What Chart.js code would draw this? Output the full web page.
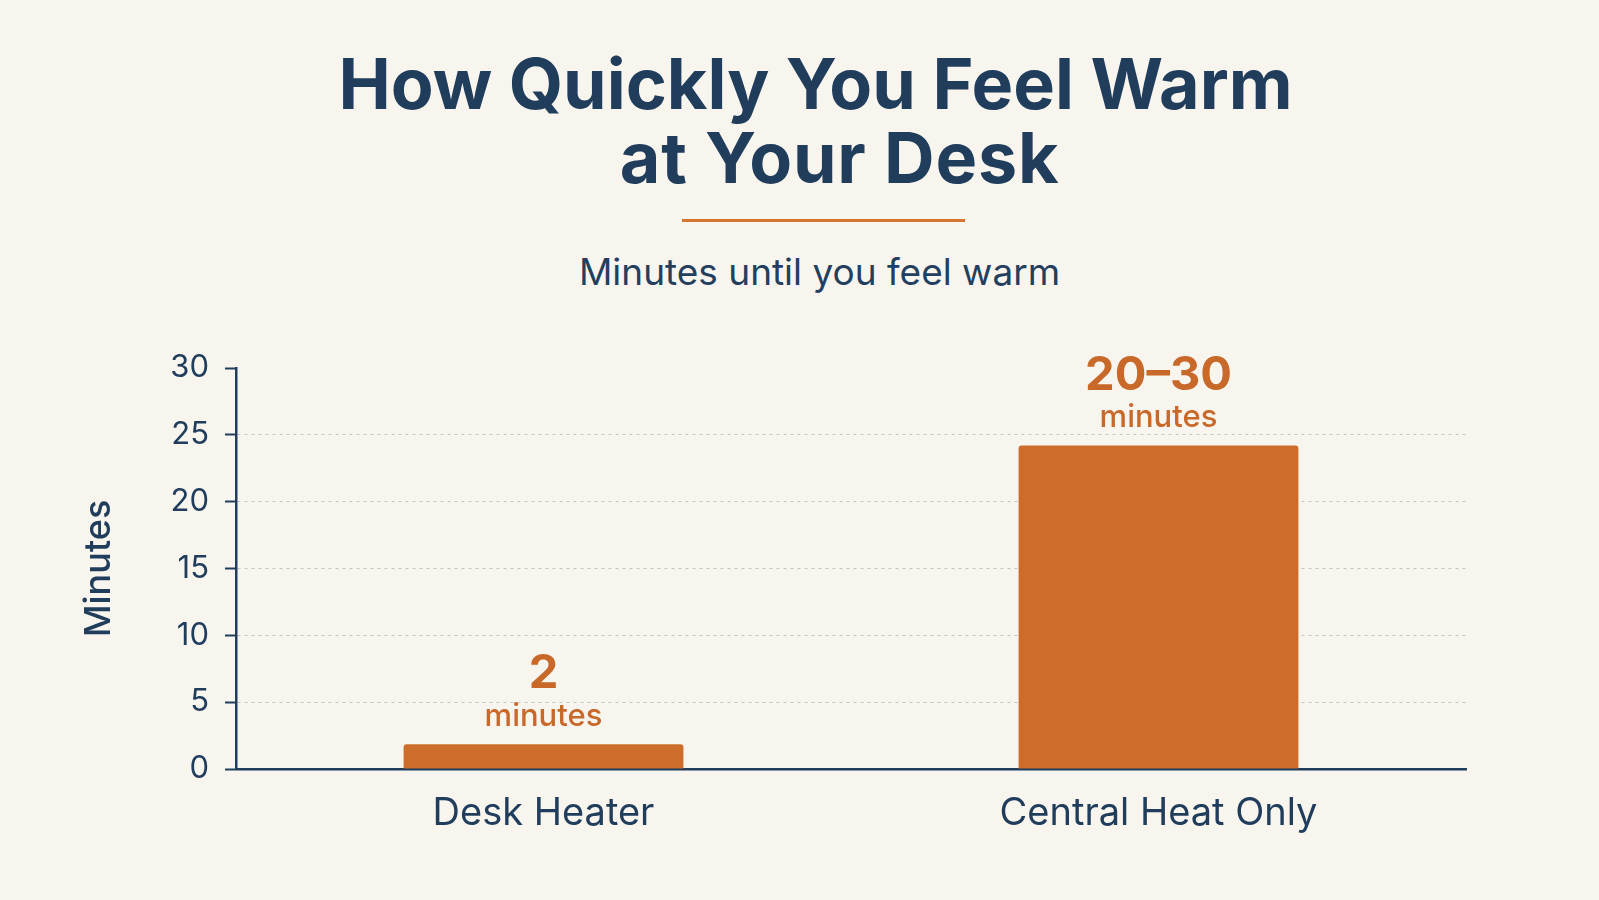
<!DOCTYPE html>
<html>
<head>
<meta charset="utf-8">
<script src="https://cdn.jsdelivr.net/npm/chart.js@4.4.1/dist/chart.umd.min.js"></script>
<style>
  html, body {
    margin: 0;
    padding: 0;
    background: #f8f5ef;
    width: 1599px;
    height: 900px;
    overflow: hidden;
    font-family: 'Inter', 'Noto Sans', sans-serif;
  }
  #chart {
    position: absolute;
    left: 0;
    top: 0;
  }
  .title {
    position: absolute;
    width: 1599px;
    text-align: center;
    font-size: 70px;
    line-height: 74px;
    font-weight: 700;
    color: #213d5c;
  }
  .line1 { left: 16px; top: 47px; }
  .line2 { left: 40px; top: 121px; letter-spacing: 0.8px; }
  .rule {
    position: absolute;
    left: 682px;
    top: 219px;
    width: 283px;
    height: 3px;
    background: #d4762f;
  }
  .subtitle {
    position: absolute;
    left: 20px;
    width: 1599px;
    top: 250px;
    text-align: center;
    font-size: 37px;
    line-height: 44px;
    color: #243f5e;
  }
</style>
</head>
<body>
<div class="title line1">How Quickly You Feel Warm</div>
<div class="title line2">at Your Desk</div>
<div class="rule"></div>
<div class="subtitle">Minutes until you feel warm</div>
<canvas id="chart" width="1599" height="900"></canvas>

<script>
// Chart data
const categories = ['Desk Heater', 'Central Heat Only'];
const minutes = [1.85, 24.2];
const valueLabels = ['2', '20–30'];
const unitLabel = 'minutes';
const yTicks = [0, 5, 10, 15, 20, 25, 30];

const navy = '#213d5c';
const orange = '#cc6d2b';
const orangeText = '#c8692a';

// Labels above each bar
const barLabels = {
    id: 'barLabels',
    afterDatasetsDraw(chart) {
        const ctx = chart.ctx;
        const meta = chart.getDatasetMeta(0);
        ctx.save();
        ctx.fillStyle = orangeText;
        ctx.textAlign = 'center';
        ctx.textBaseline = 'middle';
        meta.data.forEach((bar, i) => {
            ctx.font = '700 47px Inter, sans-serif';
            ctx.fillText(valueLabels[i], bar.x, bar.y - 70);
            ctx.font = '500 31px Inter, sans-serif';
            ctx.fillText(unitLabel, bar.x, bar.y - 28);
        });
        ctx.restore();
    }
};

new Chart(document.getElementById('chart').getContext('2d'), {
    type: 'bar',
    data: {
        labels: categories,
        datasets: [{
            data: minutes,
            backgroundColor: orange,
            borderRadius: { topLeft: 3, topRight: 3 },
            borderSkipped: 'bottom',
            categoryPercentage: 1,
            barPercentage: 0.455
        }]
    },
    options: {
        responsive: false,
        animation: false,
        devicePixelRatio: 1,
        layout: {
            padding: { top: 368, left: 78, right: 133, bottom: 51 }
        },
        plugins: {
            legend: { display: false },
            tooltip: { enabled: false }
        },
        scales: {
            x: {
                grid: { display: false, drawTicks: false },
                border: { color: navy, width: 2.5 },
                ticks: {
                    color: navy,
                    font: { family: 'Inter', size: 38 },
                    padding: 22
                },
                afterFit: (scale) => { scale.height = 80; }
            },
            y: {
                min: 0,
                max: 30,
                afterBuildTicks: (scale) => {
                    scale.ticks = yTicks.map(v => ({ value: v }));
                },
                grid: {
                    color: (c) => (c.tick && (c.tick.value === 0 || c.tick.value === 30)) ? 'rgba(0,0,0,0)' : '#c9c4bb',
                    lineWidth: 1,
                    tickColor: navy,
                    tickLength: 11,
                    tickWidth: 2
                },
                border: { color: navy, width: 2.5, dash: [3, 4] },
                ticks: {
                    color: navy,
                    font: { family: 'Inter', size: 31 },
                    padding: 16
                },
                title: {
                    display: true,
                    text: 'Minutes',
                    color: navy,
                    font: { family: 'Inter', size: 36, weight: '500' },
                    padding: 0
                },
                afterFit: (scale) => { scale.width = 158; }
            }
        }
    },
    plugins: [barLabels]
});
</script>
</body>
</html>
